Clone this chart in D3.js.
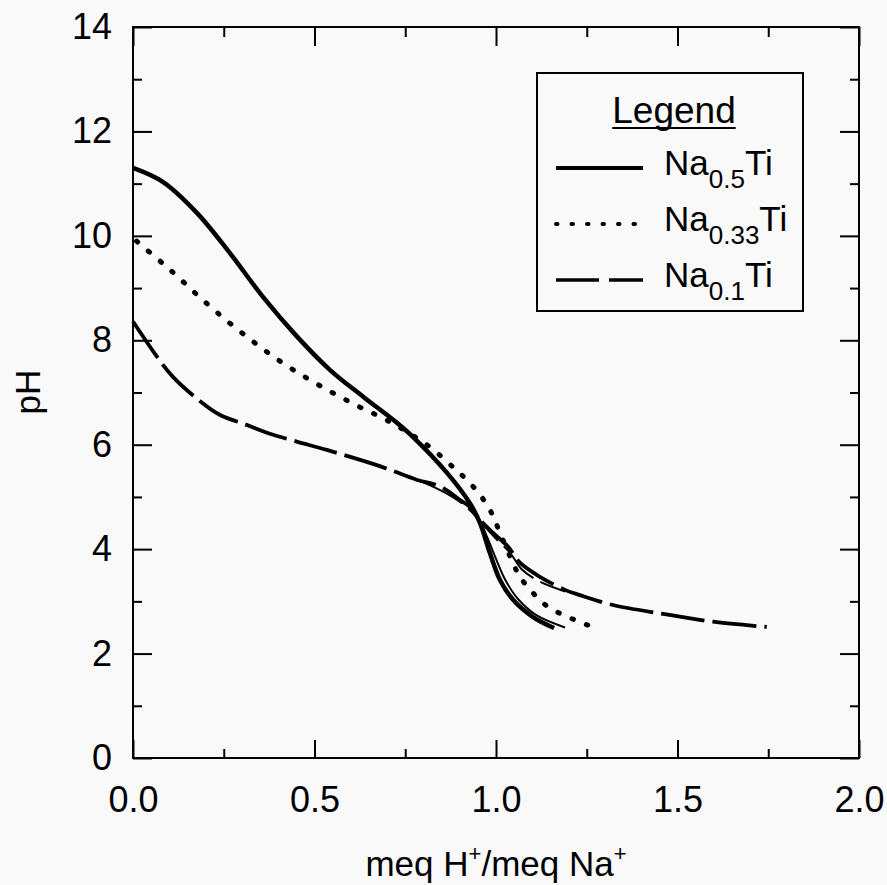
<!DOCTYPE html>
<html>
<head>
<meta charset="utf-8">
<script src="https://cdn.jsdelivr.net/npm/d3@7"></script>
<style>
  body { margin: 0; background: #f9f9f9; }
  svg { display: block; }
  text { font-family: "Liberation Sans", Arial, sans-serif; fill: #000; }
</style>
</head>
<body>
<svg class="chart" width="887" height="885"></svg>
<script>
// pH vs meq H+/meq Na+
const majorX = [0, 0.5, 1.0, 1.5, 2.0];
const minorX = [0.25, 0.75, 1.25, 1.75];
const majorY = [0, 2, 4, 6, 8, 10, 12, 14];
const minorY = [1, 3, 5, 7, 9, 11, 13];

// Na0.5Ti, two runs (they split after the end point)
const na05 = [[0, 11.30], [0.083, 11.03], [0.176, 10.44], [0.267, 9.67], [0.358, 8.83],
  [0.452, 8.07], [0.543, 7.43], [0.634, 6.92], [0.727, 6.42], [0.771, 6.15], [0.865, 5.46],
  [0.928, 4.88], [0.956, 4.50], [0.983, 3.93], [1.011, 3.41], [1.047, 3.03], [1.102, 2.70],
  [1.16, 2.49]];
const na05b = [[0.90, 5.12], [0.935, 4.80], [0.965, 4.40], [0.995, 3.90], [1.025, 3.42],
  [1.06, 3.05], [1.11, 2.74], [1.19, 2.50]];

// Na0.33Ti
const na033 = [[0.01, 9.90], [0.030, 9.78], [0.107, 9.32], [0.180, 8.85], [0.256, 8.39],
  [0.330, 7.98], [0.403, 7.61], [0.478, 7.28], [0.551, 6.99], [0.625, 6.72], [0.699, 6.47],
  [0.809, 6.00], [0.882, 5.57], [0.919, 5.33], [0.956, 5.04], [0.988, 4.69], [1.011, 4.31],
  [1.047, 3.73], [1.066, 3.47], [1.102, 3.16], [1.140, 2.91], [1.176, 2.77], [1.212, 2.66],
  [1.251, 2.55], [1.284, 2.49]];

// Na0.1Ti, two runs
const na01 = [[0, 8.36], [0.079, 7.56], [0.110, 7.30], [0.175, 6.89], [0.240, 6.57],
  [0.313, 6.38], [0.377, 6.21], [0.451, 6.06], [0.534, 5.90], [0.680, 5.59], [0.781, 5.33],
  [0.846, 5.20], [0.901, 4.94], [0.928, 4.81], [0.956, 4.56], [0.992, 4.31], [1.033, 4.05],
  [1.066, 3.74], [1.121, 3.47], [1.190, 3.22], [1.231, 3.12], [1.322, 2.93], [1.460, 2.76],
  [1.598, 2.61], [1.746, 2.51]];
const na01b = [[0.80, 5.28], [0.86, 5.08], [0.92, 4.80], [0.96, 4.50], [1.00, 4.20],
  [1.04, 3.92], [1.07, 3.62], [1.12, 3.38], [1.19, 3.19]];

const legendNames = [['Na', '0.5', 'Ti'], ['Na', '0.33', 'Ti'], ['Na', '0.1', 'Ti']];

const svg = d3.select('.chart');

const x = d3.scaleLinear().domain([0, 2]).range([133, 859]);
const y = d3.scaleLinear().domain([0, 14]).range([758, 27]);

// axes, ticks point inward on all four sides
function addAxis(axis, tx, ty) {
  const g = svg.append('g')
    .attr('transform', `translate(${tx},${ty})`)
    .style('font-size', '36px')
    .style('font-family', '"Liberation Sans", Arial, sans-serif')
    .call(axis);
  g.select('.domain').remove();
  g.selectAll('.tick line').attr('stroke', '#000').attr('stroke-width', 2);
  g.selectAll('.tick text').attr('fill', '#000');
  return g;
}

addAxis(d3.axisBottom(x).tickValues(majorX).tickSize(-18).tickPadding(28)
  .tickFormat(d3.format('.1f')), 0, 758);
addAxis(d3.axisBottom(x).tickValues(minorX).tickSize(-9).tickFormat(''), 0, 758);
addAxis(d3.axisTop(x).tickValues(majorX).tickSize(-19).tickFormat(''), 0, 27);
addAxis(d3.axisTop(x).tickValues(minorX).tickSize(-10).tickFormat(''), 0, 27);

addAxis(d3.axisLeft(y).tickValues(majorY).tickSize(-19).tickPadding(21), 133, 0);
addAxis(d3.axisLeft(y).tickValues(minorY).tickSize(-9).tickFormat(''), 133, 0);
addAxis(d3.axisRight(y).tickValues(majorY).tickSize(-19).tickFormat(''), 859, 0);
addAxis(d3.axisRight(y).tickValues(minorY).tickSize(-9).tickFormat(''), 859, 0);

svg.append('rect')
  .attr('x', x(0)).attr('y', y(14))
  .attr('width', x(2) - x(0)).attr('height', y(0) - y(14))
  .attr('fill', 'none').attr('stroke', '#000').attr('stroke-width', 2);

// curves
const line = d3.line()
  .x(d => x(d[0]))
  .y(d => y(d[1]))
  .curve(d3.curveCatmullRom.alpha(0.5));

function addCurve(data, width, dash) {
  svg.append('path')
    .datum(data)
    .attr('d', line)
    .attr('fill', 'none')
    .attr('stroke', '#000')
    .attr('stroke-width', width)
    .attr('stroke-linecap', dash === '1.5,14' ? 'round' : 'butt')
    .attr('stroke-dasharray', dash);
}

addCurve(na05, 4.5, null);
addCurve(na05b, 2, null);
addCurve(na033, 5, '1.5,14');
addCurve(na01, 3.8, '44,8');
addCurve(na01b, 2, '44,8');

// legend
svg.append('rect')
  .attr('x', 537).attr('y', 73).attr('width', 266).attr('height', 238)
  .attr('fill', '#f9f9f9').attr('stroke', '#000').attr('stroke-width', 2);

const legTitle = svg.append('text')
  .attr('x', 674).attr('y', 123)
  .attr('text-anchor', 'middle')
  .style('font-size', '37px')
  .text('Legend');
const tw = legTitle.node().getComputedTextLength();
svg.append('line')
  .attr('x1', 674 - tw / 2).attr('x2', 674 + tw / 2)
  .attr('y1', 128).attr('y2', 128)
  .attr('stroke', '#000').attr('stroke-width', 2);

const legendStyles = [[4, null], [4, '1.5,14'], [3.6, '43,10']];
const rowY = [168, 224, 280];

legendNames.forEach((name, i) => {
  svg.append('line')
    .attr('x1', 556).attr('x2', 643)
    .attr('y1', rowY[i]).attr('y2', rowY[i])
    .attr('stroke', '#000')
    .attr('stroke-width', legendStyles[i][0])
    .attr('stroke-linecap', i === 1 ? 'round' : 'butt')
    .attr('stroke-dasharray', legendStyles[i][1]);
  const t = svg.append('text')
    .attr('x', 664).attr('y', rowY[i] + 7)
    .style('font-size', '35px');
  t.append('tspan').text(name[0]);
  t.append('tspan').attr('dy', 13).style('font-size', '26px').text(name[1]);
  t.append('tspan').attr('dy', -13).text(name[2]);
});

// axis titles
const xt = svg.append('text')
  .attr('x', 496).attr('y', 876)
  .attr('text-anchor', 'middle')
  .style('font-size', '35px');
xt.append('tspan').text('meq H');
xt.append('tspan').attr('dy', -15).style('font-size', '22px').text('+');
xt.append('tspan').attr('dy', 15).text('/meq Na');
xt.append('tspan').attr('dy', -15).style('font-size', '22px').text('+');

svg.append('text')
  .attr('transform', 'translate(40,392) rotate(-90)')
  .attr('text-anchor', 'middle')
  .style('font-size', '35px')
  .text('pH');
</script>
</body>
</html>
